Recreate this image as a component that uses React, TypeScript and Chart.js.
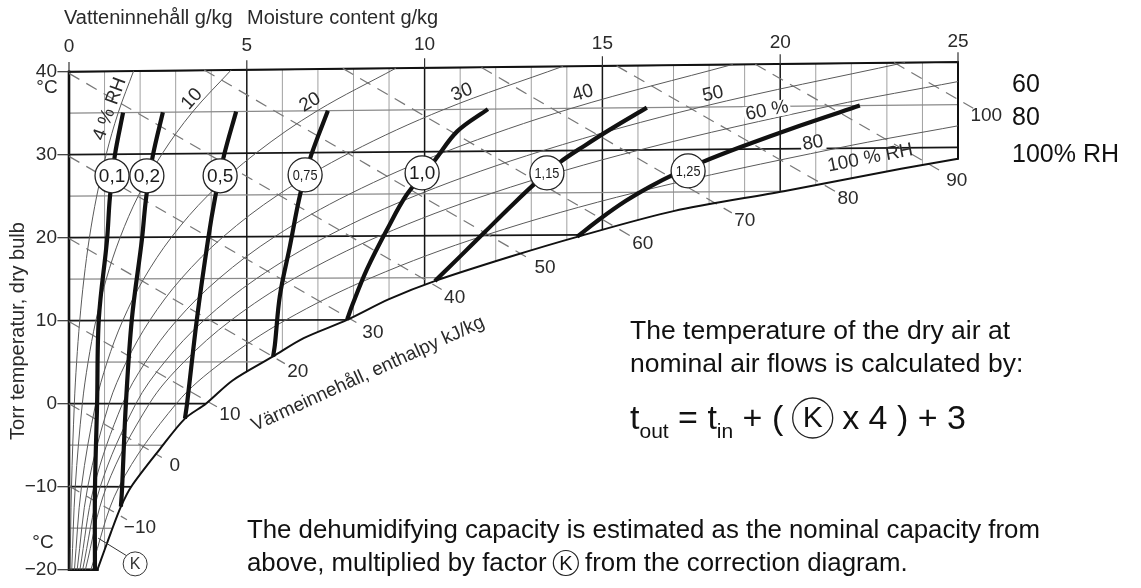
import React, { useEffect, useRef } from "react";
import { Chart, registerables } from "chart.js";

Chart.register(...registerables);

type Pt = [number, number];

// ---------- axes ----------
const X_TICKS = [0, 5, 10, 15, 20, 25];
const X_TICK_LABELS = ["0", "5", "10", "15", "20", "25"];
const Y_TICKS = [40, 30, 20, 10, 0, -10, -20];
const Y_TICK_LABELS = ["40", "30", "20", "10", "0", "−10", "−20"];
const MOISTURE_GRID = [1, 2, 3, 4, 5, 6, 7, 8, 9, 10, 11, 12, 13, 14, 15, 16, 17, 18, 19, 20, 21, 22, 23, 24];
const ISOTHERMS = [-20, -15, -10, -5, 0, 5, 10, 15, 20, 25, 30, 35, 40];
const ISOTHERM_SKEW = 0.00118; // slope of isotherms in the h-x chart

// ---------- relative humidity curves [g/kg, °C] ----------
const RH_LEVELS = [4, 10, 20, 30, 40, 50, 60, 80];
const RH_04: Pt[] = [[0.031, -20], [0.07, -10], [0.15, 0], [0.214, 5], [0.302, 10], [0.419, 15], [0.574, 20], [0.779, 25], [1.044, 30], [1.384, 35.06], [1.817, 40.09]];
const RH_10: Pt[] = [[0.077, -20], [0.176, -10], [0.375, 0], [0.536, 5], [0.755, 10], [1.048, 15.02], [1.438, 20.03], [1.95, 25.06], [2.617, 30.09], [3.472, 35.14], [4.564, 40.22]];
const RH_20: Pt[] = [[0.153, -20], [0.351, -10], [0.751, 0], [1.072, 5.01], [1.512, 10.02], [2.101, 15.04], [2.884, 20.07], [3.913, 25.12], [5.257, 30.19], [6.982, 35.29], [9.196, 40.43]];
const RH_30: Pt[] = [[0.23, -20], [0.527, -10], [1.127, 0], [1.61, 5.01], [2.27, 10.03], [3.156, 15.06], [4.333, 20.1], [5.883, 25.17], [7.919, 30.28], [10.532, 35.43], [13.897, 40.66]];
const RH_40: Pt[] = [[0.307, -20], [0.703, -10], [1.504, 0], [2.149, 5.01], [3.03, 10.04], [4.215, 15.07], [5.792, 20.14], [7.875, 25.23], [10.604, 30.38], [14.123, 35.58], [18.668, 40.88]];
const RH_50: Pt[] = [[0.384, -20], [0.879, -10], [1.881, 0], [2.688, 5.02], [3.792, 10.04], [5.278, 15.09], [7.257, 20.17], [9.875, 25.29], [13.312, 30.47], [17.755, 35.73], [23.512, 41.11]];
const RH_60: Pt[] = [[0.461, -20], [1.055, -10], [2.259, 0], [3.229, 5.02], [4.556, 10.05], [6.344, 15.11], [8.729, 20.21], [11.886, 25.35], [16.042, 30.57], [21.428, 35.89], [25.0, 38.81]];
const RH_80: Pt[] = [[0.614, -20], [1.407, -10], [3.016, 0], [4.312, 5.03], [6.09, 10.07], [8.487, 15.15], [11.693, 20.28], [15.952, 25.47], [21.575, 30.76], [25.0, 33.48]];
const RH_100: Pt[] = [[0.8, -20], [1.18, -15.5], [1.46, -12.4], [1.75, -10], [2.55, -5.5], [3.26, -1.8], [3.85, 0], [4.6, 2.8], [5.74, 5.7], [6.6, 7.9], [7.82, 10.1], [9.0, 12.6], [10.3, 14.8], [12.4, 17.7], [14.29, 20.1], [17.0, 23.2], [20.1, 25.6], [23.4, 28.3], [25.0, 29.5]];

const RH_LABEL_TEXT = ["4 % RH", "10", "20", "30", "40", "50", "60 %", "80", "100 % RH"];
const RH_LABEL_G = [1.15, 3.46, 6.78, 11.05, 14.45, 18.11, 19.63, 20.92, 22.53];
const RH_LABEL_T = [35.5, 36.7, 36.3, 37.5, 37.4, 37.3, 35.3, 31.4, 29.6];
const RH_LABEL_ANGLE = [-70, -48, -31, -22, -16, -12, -11, -10, -11];

// ---------- enthalpy lines (kJ/kg) ----------
const ENTHALPY = [-10, 0, 10, 20, 30, 40, 50, 60, 70, 80, 90, 100];
const H_START_G = [0, 0, 0, 0, 0, 0, 3.8, 7.7, 11.6, 15.4, 19.3, 23.2];
const H_START_T = [-9.9, 0, 9.9, 19.9, 29.8, 39.8, 40.2, 40.4, 40.5, 40.7, 40.9, 41.1];
const H_END_G = [1.63, 2.61, 4.16, 6.07, 8.18, 10.48, 13.02, 15.77, 18.64, 21.54, 24.6, 25.43];
const H_END_T = [-13.98, -6.47, -0.38, 4.83, 9.53, 13.77, 17.29, 20.27, 22.99, 25.6, 27.84, 35.6];

// ---------- correction factor K curves ----------
const K_VALUES = ["0,1", "0,2", "0,5", "0,75", "1,0", "1,15", "1,25"];
const K_010: Pt[] = [[1.52, 35.06], [1.29, 29.94], [1.15, 24.85], [1.07, 19.76], [0.84, 10.3], [0.79, 0], [0.73, -10.4], [0.73, -20]];
const K_020: Pt[] = [[2.64, 35.11], [2.36, 29.94], [2.17, 24.85], [2.05, 19.76], [1.77, 10.3], [1.6, 0], [1.49, -10.4], [1.46, -12.4]];
const K_050: Pt[] = [[4.7, 35.19], [4.36, 29.94], [4.11, 24.85], [3.91, 19.76], [3.6, 10.3], [3.32, 0], [3.26, -1.8]];
const K_075: Pt[] = [[7.28, 35.3], [6.81, 29.94], [6.5, 25.2], [6.21, 18.93], [5.93, 13.0], [5.79, 7.1], [5.74, 5.68]];
const K_100: Pt[] = [[11.78, 35.49], [10.91, 32.78], [10.29, 29.35], [9.5, 25.2], [8.94, 20.95], [8.38, 16.2], [7.96, 11.8], [7.82, 10.1]];
const K_115: Pt[] = [[16.25, 35.67], [15.21, 33.02], [14.51, 31.12], [13.81, 29.11], [13.1, 26.51], [12.4, 23.67], [11.7, 20.71], [11.0, 17.75], [10.29, 14.79]];
const K_125: Pt[] = [[22.24, 35.92], [20.55, 33.49], [18.87, 30.89], [17.74, 28.99], [17.04, 27.69], [16.34, 26.15], [15.64, 24.38], [14.93, 22.25], [14.29, 20.12]];
const K_CIRCLE_G = [1.21, 2.19, 4.25, 6.64, 9.93, 13.44, 17.41];
const K_CIRCLE_T = [27.46, 27.46, 27.46, 27.57, 27.81, 27.81, 28.05];
const K_MARK: Pt = [1.86, -19.3];
const K_LEADER: Pt[] = [[0.82, -16.2], [1.63, -18.34]];

const FONT = '"Liberation Sans", Arial, Helvetica, sans-serif';
const INK = "#1c1c1c";
const LABEL = "#2a2a2a";

const xy = (pts: Pt[]) => pts.map(([x, y]) => ({ x, y }));

function txt(ctx: CanvasRenderingContext2D, s: string, x: number, y: number, size: number, o: any = {}) {
  ctx.save();
  ctx.font = `${size}px ${FONT}`;
  ctx.textAlign = o.align || "center";
  ctx.textBaseline = o.baseline || "middle";
  ctx.translate(x, y);
  if (o.angle) ctx.rotate((o.angle * Math.PI) / 180);
  if (o.sx) ctx.scale(o.sx, 1);
  if (o.bg) {
    const w = ctx.measureText(s).width;
    ctx.fillStyle = "#fff";
    ctx.fillRect(-w / 2 - 2, -size * 0.42, w + 4, size * 0.84);
  }
  ctx.fillStyle = o.color || INK;
  ctx.fillText(s, 0, 0);
  const w = ctx.measureText(s).width * (o.sx || 1);
  ctx.restore();
  return w;
}

const psychroPlugin = {
  id: "psychro",
  beforeDatasetsDraw(chart: any) {
    const ctx: CanvasRenderingContext2D = chart.ctx;
    const xs = chart.scales.x;
    const ys = chart.scales.y;
    const X = (g: number) => xs.getPixelForValue(g);
    const Y = (t: number) => ys.getPixelForValue(t);
    const sk = (t: number, g: number) => t * (1 + ISOTHERM_SKEW * g);
    const satEnd = RH_100[RH_100.length - 1];

    ctx.save();
    ctx.beginPath();
    ctx.moveTo(X(0), Y(-20));
    ctx.lineTo(X(0), Y(40));
    ctx.lineTo(X(25), Y(sk(40, 25)));
    ctx.lineTo(X(25), Y(satEnd[1]));
    for (let i = RH_100.length - 1; i >= 0; i--) ctx.lineTo(X(RH_100[i][0]), Y(RH_100[i][1]));
    ctx.closePath();
    ctx.clip();
    for (const g of MOISTURE_GRID) {
      const major = g % 5 === 0;
      ctx.strokeStyle = major ? "#151515" : "#a0a0a0";
      ctx.lineWidth = major ? 1.5 : 1;
      ctx.beginPath();
      ctx.moveTo(X(g), Y(-25));
      ctx.lineTo(X(g), Y(45));
      ctx.stroke();
    }
    for (const t of ISOTHERMS) {
      const major = t % 10 === 0;
      ctx.strokeStyle = major ? "#151515" : "#8a8a8a";
      ctx.lineWidth = major ? 1.7 : 1.3;
      ctx.beginPath();
      ctx.moveTo(X(0), Y(t));
      ctx.lineTo(X(25), Y(sk(t, 25)));
      ctx.stroke();
    }
    ctx.restore();

    // borders
    ctx.save();
    ctx.strokeStyle = "#111";
    ctx.lineCap = "square";
    ctx.lineWidth = 2.6;
    ctx.beginPath();
    ctx.moveTo(X(RH_100[0][0]), Y(-20));
    ctx.lineTo(X(0), Y(-20));
    ctx.lineTo(X(0), Y(40));
    ctx.stroke();
    ctx.lineWidth = 2;
    ctx.beginPath();
    ctx.moveTo(X(0), Y(40));
    ctx.lineTo(X(25), Y(sk(40, 25)));
    ctx.lineTo(X(25), Y(satEnd[1]));
    ctx.stroke();
    // tick marks
    ctx.lineWidth = 1.2;
    ctx.strokeStyle = "#333";
    for (const t of Y_TICKS) {
      ctx.beginPath();
      ctx.moveTo(X(0) - 11, Y(t));
      ctx.lineTo(X(0), Y(t));
      ctx.stroke();
    }
    for (const g of X_TICKS) {
      const yy = Y(sk(40, g));
      ctx.beginPath();
      ctx.moveTo(X(g), yy - 9);
      ctx.lineTo(X(g), yy);
      ctx.stroke();
    }
    ctx.restore();
  },
  afterDatasetsDraw(chart: any) {
    const ctx: CanvasRenderingContext2D = chart.ctx;
    const xs = chart.scales.x;
    const ys = chart.scales.y;
    const X = (g: number) => xs.getPixelForValue(g);
    const Y = (t: number) => ys.getPixelForValue(t);
    const sk = (t: number, g: number) => t * (1 + ISOTHERM_SKEW * g);

    // tick labels
    X_TICKS.forEach((g, i) => txt(ctx, X_TICK_LABELS[i], X(g), Y(sk(40, g)) - 25 + g * 0.2, 19, { color: LABEL }));
    Y_TICKS.forEach((t, i) => txt(ctx, Y_TICK_LABELS[i], X(0) - 12, Y(t), 19, { align: "right", color: LABEL }));
    txt(ctx, "°C", X(0) - 22, Y(40) + 16, 19, { color: LABEL });
    txt(ctx, "°C", X(0) - 26, Y(-20) - 27, 19, { color: LABEL });
    txt(ctx, "Vatteninnehåll g/kg", 64, 18, 20, { align: "left", color: LABEL });
    txt(ctx, "Moisture content g/kg", 247, 18, 20, { align: "left", color: LABEL });
    txt(ctx, "Torr temperatur, dry bulb", 18, 331, 20, { angle: -90, color: LABEL });

    // RH labels
    RH_LABEL_TEXT.forEach((s, i) =>
      txt(ctx, s, X(RH_LABEL_G[i]), Y(RH_LABEL_T[i]), 19, { angle: RH_LABEL_ANGLE[i], color: LABEL, bg: s === "80" || s === "60 %" })
    );
    // enthalpy labels
    ENTHALPY.forEach((h, i) => {
      const s = h < 0 ? "−" + Math.abs(h) : String(h);
      txt(ctx, s, X(H_END_G[i]) + 13, Y(H_END_T[i]) + 8, 19, { color: LABEL });
    });
    txt(ctx, "Värmeinnehåll, enthalpy kJ/kg", 368, 374, 19, { angle: -24.5, color: LABEL });

    // circle labels
    K_VALUES.forEach((s, i) => {
      const small = s.length > 3;
      txt(ctx, s, X(K_CIRCLE_G[i]), Y(K_CIRCLE_T[i]) + 1, small ? 15 : 19, { color: "#1a1a1a", sx: small ? 0.85 : 1 });
    });

    // K marker with leader
    ctx.save();
    ctx.strokeStyle = "#333";
    ctx.lineWidth = 1;
    ctx.beginPath();
    ctx.moveTo(X(K_LEADER[0][0]), Y(K_LEADER[0][1]));
    ctx.lineTo(X(K_LEADER[1][0]), Y(K_LEADER[1][1]));
    ctx.stroke();
    ctx.beginPath();
    ctx.arc(X(K_MARK[0]), Y(K_MARK[1]), 12, 0, Math.PI * 2);
    ctx.fillStyle = "#fff";
    ctx.fill();
    ctx.stroke();
    ctx.restore();
    txt(ctx, "K", X(K_MARK[0]), Y(K_MARK[1]) + 1, 16, { color: "#333" });

    // right side labels
    txt(ctx, "60", 1012, 85, 25, { align: "left", color: "#111" });
    txt(ctx, "80", 1012, 118, 25, { align: "left", color: "#111" });
    txt(ctx, "100% RH", 1012, 155, 25, { align: "left", color: "#111" });

    // explanatory text
    txt(ctx, "The temperature of the dry air at", 630, 332, 26.5, { align: "left", color: "#111" });
    txt(ctx, "nominal air flows is calculated by:", 630, 365, 26.5, { align: "left", color: "#111" });

    const base = 429;
    let x = 630;
    const part = (s: string, size: number, dy: number) => {
      x += txt(ctx, s, x, base + dy, size, { align: "left", baseline: "alphabetic", color: "#111" });
    };
    part("t", 34, 0);
    part("out", 21, 9);
    part(" = t", 34, 0);
    part("in", 21, 9);
    part(" + ( ", 34, 0);
    ctx.save();
    ctx.strokeStyle = "#222";
    ctx.lineWidth = 1.3;
    ctx.beginPath();
    ctx.arc(x + 20, base - 11, 20, 0, Math.PI * 2);
    ctx.stroke();
    ctx.restore();
    txt(ctx, "K", x + 20, base - 10, 30, { color: "#111" });
    x += 40;
    part(" x 4 ) + 3", 34, 0);

    txt(ctx, "The dehumidifying capacity is estimated as the nominal capacity from", 247, 531, 25.8, { align: "left", color: "#111" });
    let x2 = 247;
    x2 += txt(ctx, "above, multiplied by factor ", x2, 564, 25.8, { align: "left", color: "#111" });
    ctx.save();
    ctx.strokeStyle = "#222";
    ctx.lineWidth = 1.2;
    ctx.beginPath();
    ctx.arc(x2 + 12, 563, 12.5, 0, Math.PI * 2);
    ctx.stroke();
    ctx.restore();
    txt(ctx, "K", x2 + 12, 564, 20, { color: "#111" });
    x2 += 24;
    txt(ctx, " from the correction diagram.", x2, 564, 25.8, { align: "left", color: "#111" });
  },
};

export default function App() {
  const ref = useRef<HTMLCanvasElement | null>(null);
  useEffect(() => {
    if (!ref.current) return;
    const rhSeries = [RH_04, RH_10, RH_20, RH_30, RH_40, RH_50, RH_60, RH_80];
    const kSeries = [K_010, K_020, K_050, K_075, K_100, K_115, K_125];
    const datasets: any[] = [];
    datasets.push({
      label: "K",
      data: K_CIRCLE_G.map((g, i) => ({ x: g, y: K_CIRCLE_T[i] })),
      showLine: false,
      pointRadius: 17,
      pointBackgroundColor: "#fff",
      pointBorderColor: "#222",
      pointBorderWidth: 1.3,
      order: 0,
      clip: false,
    });
    kSeries.forEach((s, i) =>
      datasets.push({ label: "K " + K_VALUES[i], data: xy(s), showLine: true, borderColor: "#111", borderWidth: 4.2, pointRadius: 0, tension: 0.35, borderCapStyle: "butt", order: 1, clip: false })
    );
    datasets.push({ label: "100 % RH", data: xy(RH_100), showLine: true, borderColor: "#111", borderWidth: 2, pointRadius: 0, tension: 0.3, order: 2, clip: false });
    rhSeries.forEach((s, i) =>
      datasets.push({ label: RH_LEVELS[i] + " % RH", data: xy(s), showLine: true, borderColor: "#5a5a5a", borderWidth: 1, pointRadius: 0, tension: 0.35, order: 3, clip: false })
    );
    ENTHALPY.forEach((h, i) =>
      datasets.push({
        label: h + " kJ/kg",
        data: [{ x: H_START_G[i], y: H_START_T[i] }, { x: H_END_G[i], y: H_END_T[i] }],
        showLine: true,
        borderColor: "#777",
        borderWidth: 1.2,
        borderDash: [12, 8],
        pointRadius: 0,
        order: 4,
        clip: false,
      })
    );

    const chart = new Chart(ref.current, {
      type: "scatter",
      data: { datasets },
      options: {
        animation: false,
        responsive: true,
        maintainAspectRatio: false,
        events: [],
        layout: { padding: { left: 69, right: 183, top: 55.1, bottom: 9 } },
        plugins: { legend: { display: false }, tooltip: { enabled: false } },
        scales: {
          x: { type: "linear", min: 0, max: 25, display: false },
          y: { type: "linear", min: -20, max: 42, display: false },
        },
      },
      plugins: [psychroPlugin],
    } as any);
    return () => chart.destroy();
  }, []);
  return (
    <div style={{ position: "fixed", left: 0, top: 0, width: 1141, height: 588, background: "#fff" }}>
      <canvas ref={ref} />
    </div>
  );
}
